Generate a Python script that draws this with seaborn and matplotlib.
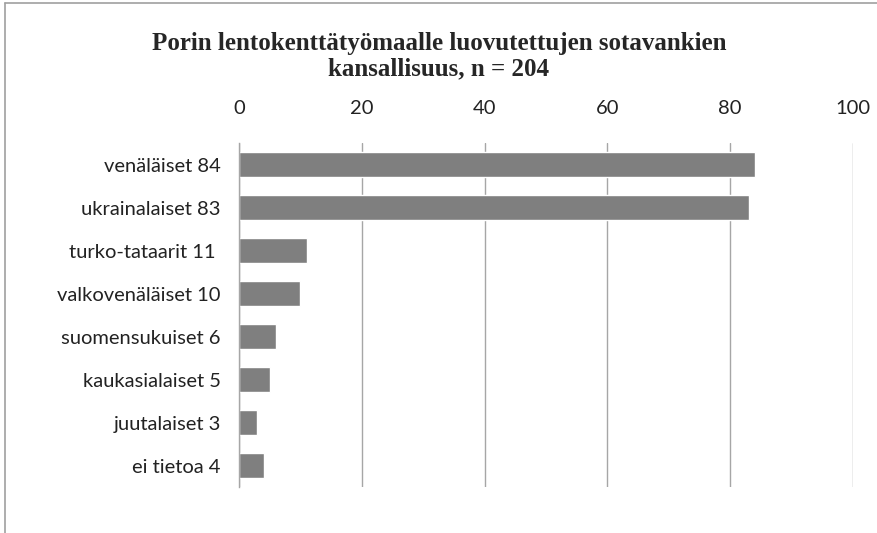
import matplotlib
matplotlib.use("Agg")
import matplotlib.pyplot as plt
import seaborn as sns
import pandas as pd
from matplotlib.lines import Line2D

# data
labels = ["venäläiset 84", "ukrainalaiset 83", "turko-tataarit 11 ", "valkovenäläiset 10",
          "suomensukuiset 6", "kaukasialaiset 5", "juutalaiset 3", "ei tietoa 4"]
counts = [84, 83, 11, 10, 6, 5, 3, 4]
xticks = [0, 20, 40, 60, 80, 100]

df = pd.DataFrame({"label": labels, "count": counts})

sns.set_style("white")
plt.rcParams['font.family'] = ['Lato', 'DejaVu Sans']

fig = plt.figure(figsize=(8.78, 5.33), dpi=100)
ax = fig.add_axes([0.2722, 0.0863, 0.6993, 0.6454])

sns.barplot(data=df, x="count", y="label", orient="h", color="#7f7f7f",
            width=0.56, saturation=1, ax=ax)

ax.set_xlim(0, 100)
ax.set_xticks(xticks)
ax.xaxis.tick_top()
ax.tick_params(axis="x", length=0, pad=19, labelsize=14.5, labelcolor="#222222")
ax.tick_params(axis="y", length=0, pad=13, labelsize=14.5, labelcolor="#222222")
ax.set_xlabel("")
ax.set_ylabel("")
ax.grid(axis="x", color="#a6a6a6", linewidth=1)
ax.set_axisbelow(True)
for s in ["top", "right", "bottom"]:
    ax.spines[s].set_visible(False)
ax.spines["left"].set_color("#a6a6a6")
ax.spines["left"].set_linewidth(1)

fig.text(0.5, 1 - 32/533,
         "Porin lentokenttätyömaalle luovutettujen sotavankien\nkansallisuus, n = 204",
         ha="center", va="top", fontsize=18, fontweight="bold",
         family="Liberation Serif", linespacing=1.15)

# outer chart frame (left and top edges)
fig.add_artist(Line2D([5/878, 5/878], [0, 1 - 3/533], color="#a0a0a0", lw=1.2,
                      transform=fig.transFigure))
fig.add_artist(Line2D([5/878, 1], [1 - 3/533, 1 - 3/533], color="#a0a0a0", lw=1.2,
                      transform=fig.transFigure))

fig.savefig("out.png", dpi=100)
